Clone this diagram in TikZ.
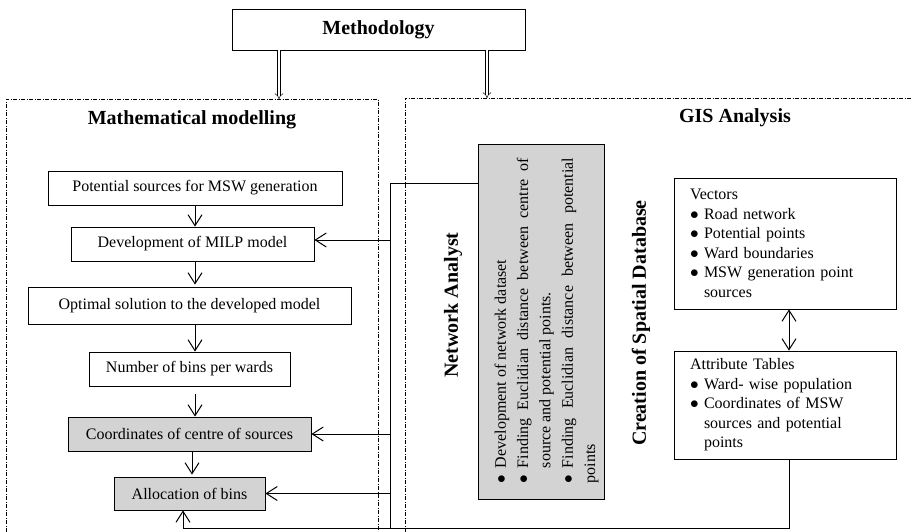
\documentclass[tikz,border=0pt]{standalone}
\usepackage{fontspec}
\setmainfont{Liberation Serif}
\usetikzlibrary{arrows.meta}
\definecolor{boxgray}{RGB}{211,211,211}
\tikzset{
  stepbox/.style={draw, line width=0.8pt, minimum height=34pt, inner sep=0pt, font=\fontsize{16}{19.5}\selectfont},
  graybox/.style={stepbox, fill=boxgray},
  listbox/.style={draw, line width=0.8pt, inner xsep=16pt, inner ysep=0pt, text width=190pt, align=left, font=\fontsize{16}{19.5}\selectfont},
  heading/.style={font=\fontsize{20}{24}\selectfont\bfseries},
  frame/.style={line width=0.6pt, dash pattern=on 4pt off 1.5pt on 1pt off 1.5pt},
  link/.style={line width=1pt},
  arr/.style={link, -{Straight Barb[length=11pt,width=14pt]}},
  dbl/.style={double, double distance=2.5pt, line width=0.5pt, -{Implies}}
}
\newcommand{\bul}{\makebox[14pt][l]{$\bullet$}}
\newcommand{\nobul}{\hspace*{14pt}}
\newcommand{\nitem}[1]{\par\noindent\hangindent=15pt\hangafter=1\makebox[15pt][l]{$\bullet$}#1}
\begin{document}
\begin{tikzpicture}[x=1pt,y=-1pt]
\useasboundingbox (0,0) rectangle (911,531);
\node[stepbox, heading, minimum width=293pt, minimum height=41pt] (meth) at (378.5,29.5) {Methodology};
\draw[frame] (6,540) -- (6,99) -- (378,99) -- (378,540);
\draw[frame] (405,540) -- (405,98) -- (920,98);
\coordinate (mmtop) at (279,99);
\coordinate (gistop) at (487,98);
\draw[dbl] (meth.south -| mmtop) -- (mmtop);
\draw[dbl] (meth.south -| gistop) -- (gistop);
\node[heading] (mm) at (192,120) {Mathematical modelling};
\node[heading] (gis) at (735,118) {GIS Analysis};

\node[stepbox, minimum width=294pt] (pot) at (195,188) {Potential sources for MSW generation};
\node[stepbox, minimum width=243pt] (milp) at (192.5,244) {Development of MILP model};
\node[stepbox, minimum width=323pt, minimum height=37pt] (opt) at (189.5,305.5) {Optimal solution to the developed model};
\node[stepbox, minimum width=201pt] (nbins) at (189.5,369) {Number of bins per wards};
\node[graybox, minimum width=243pt] (coord) at (189.5,434) {Coordinates of centre of sources};
\node[graybox, minimum width=151pt, minimum height=33pt] (alloc) at (189.5,493.5) {Allocation of bins};
\coordinate (col) at (195,0);
\draw[arr] (col |- pot.south) -- (col |- milp.north);
\draw[arr] (col |- milp.south) -- ([yshift=2pt]col |- opt.north);
\draw[arr] (col |- opt.south) -- (col |- nbins.north);
\draw[arr] ([yshift=-8pt]col |- nbins.south) -- (col |- coord.north);
\draw[arr] ([xshift=-3pt]col |- coord.south) -- ([xshift=-3pt,yshift=2pt]col |- alloc.north);

\node[graybox, minimum width=126pt, minimum height=355pt] (nabox) at (541,321.5) {};
\node[rotate=90, inner sep=0pt, text width=325pt, align=justify, font=\fontsize{16}{22.3}\selectfont] (natext) at (541,320.5)
  {\nitem{Development of network dataset}\nitem{Finding Euclidian distance between centre of source and potential points.}\nitem{Finding Euclidian distance between potential points}};
\node[heading, rotate=90] (natitle) at (453,305) {Network Analyst};
\node[heading, rotate=90] (cdb) at (641,323) {Creation of Spatial Database};

\node[listbox, minimum height=131pt] (vec) at (785,243.5)
  {Vectors\\ \bul Road network\\ \bul Potential points\\ \bul Ward boundaries\\ \bul MSW generation point\\ \nobul sources};
\node[listbox, minimum height=108pt] (attr) at (785,405)
  {Attribute Tables\\ \bul Ward- wise population\\ \bul Coordinates of MSW\\ \nobul sources and potential\\ \nobul points};
\coordinate (dbx) at (789,0);
\draw[link, {Straight Barb[length=11pt,width=14pt]}-{Straight Barb[length=11pt,width=14pt]}] (vec.south -| dbx) -- (attr.north -| dbx);

\coordinate (jtop) at (390,183);
\coordinate (jbot) at (390,528);
\coordinate (bend) at (183,528);
\draw[link] (nabox.west |- jtop) -- (jtop) -- (jbot);
\draw[arr] ([yshift=4pt]jtop |- milp.east) -- ([yshift=4pt]milp.east);
\draw[arr] (jtop |- coord.east) -- (coord.east);
\draw[arr] (jtop |- alloc.east) -- (alloc.east);
\draw[arr] (attr.south -| dbx) |- (bend) -- (bend |- alloc.south);
\end{tikzpicture}
\end{document}
